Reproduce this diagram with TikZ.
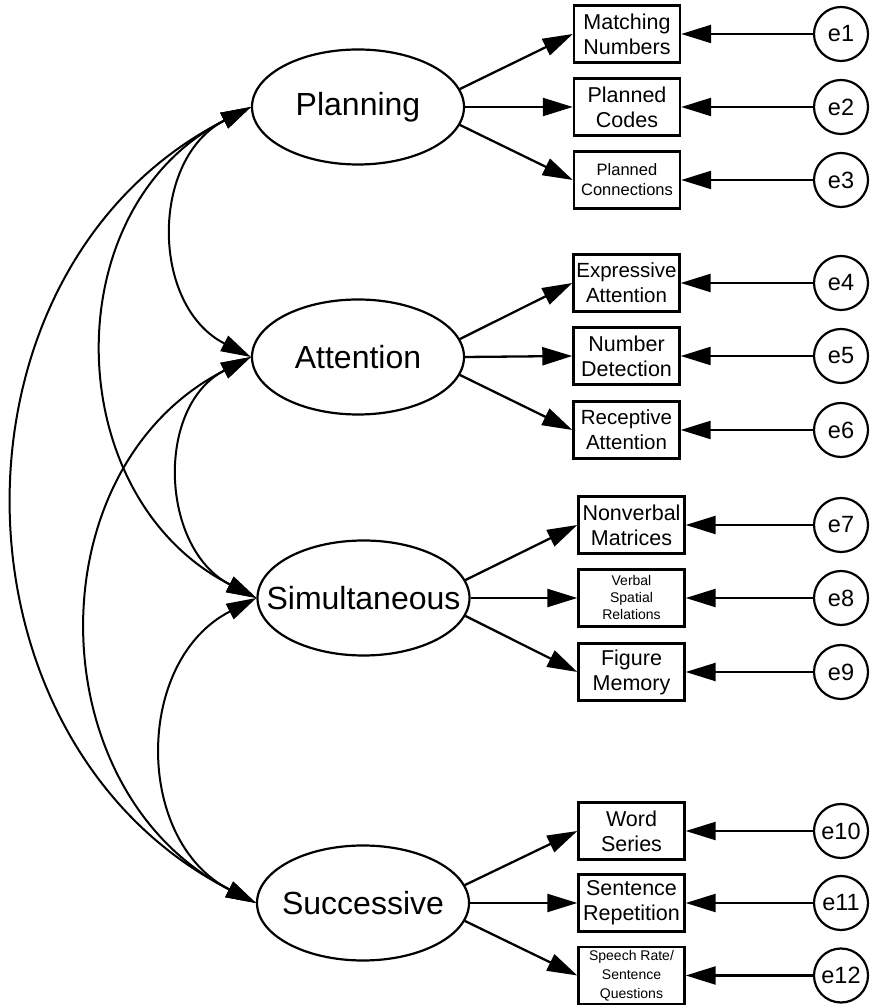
\documentclass[tikz,border=0pt]{standalone}
\usepackage{fontspec}
\setmainfont{Liberation Sans}
\usetikzlibrary{shapes.geometric,arrows.meta}
\tikzset{
  latent/.style={ellipse, draw, line width=2.2pt, minimum width=212pt, minimum height=115pt, inner sep=0pt, font=\fontsize{32}{38}\selectfont},
  obs/.style={rectangle, draw, line width=2.4pt, minimum width=106pt, minimum height=57pt, inner sep=0pt, align=center},
  err/.style={circle, draw, line width=2.2pt, minimum size=54pt, inner sep=0pt, font=\fontsize{23.5}{26}\selectfont},
  bigt/.style={font=\fontsize{21.5}{25}\selectfont},
  midt/.style={font=\fontsize{20.5}{25}\selectfont},
  smallt/.style={font=\fontsize{16.5}{20}\selectfont},
  arr/.style={line width=2.3pt, -{Triangle[length=30pt,width=18pt]}},
  cov/.style={line width=2pt, {Triangle[length=30pt,width=17pt]}-{Triangle[length=30pt,width=17pt]}},
}
\begin{document}
\begin{tikzpicture}[x=1pt,y=1pt]
\useasboundingbox (0,0) rectangle (871,1006);
% latent factors
\node[latent] (P) at (358,899) {\makebox[0pt]{Planning}};
\node[latent] (A) at (358,649) {\makebox[0pt]{Attention}};
\node[latent] (S) at (363.5,408) {\makebox[0pt]{Simultaneous}};
\node[latent] (U) at (363,103) {\makebox[0pt]{Successive}};
% observed
\node[obs,bigt] (m1) at (627,972) {Matching\\Numbers};
\node[obs,bigt] (m2) at (627,899) {Planned\\Codes};
\node[obs,smallt] (m3) at (627,826) {Planned\\Connections};
\node[obs,midt] (m4) at (626.5,723) {Expressive\\Attention};
\node[obs,bigt] (m5) at (626.5,650) {Number\\Detection};
\node[obs,midt] (m6) at (626.5,576) {Receptive\\Attention};
\node[obs,bigt] (m7) at (631.5,481) {Nonverbal\\Matrices};
\node[obs,font=\fontsize{14}{17}\selectfont] (m8) at (631.5,408) {Verbal\\Spatial\\Relations};
\node[obs,bigt] (m9) at (631.5,334) {Figure\\Memory};
\node[obs,bigt] (m10) at (631.5,175) {Word\\Series};
\node[obs,bigt] (m11) at (631.5,103) {Sentence\\Repetition};
\node[obs,font=\fontsize{14}{19}\selectfont] (m12) at (631.5,30.5) {Speech Rate/\\Sentence\\Questions};
% errors
\foreach \i/\y in {1/972,2/899,3/826,4/723,5/650,6/576,7/481,8/408,9/334,10/175,11/103,12/30.5}{
  \node[err] (e\i) at (841,\y) {e\i};
  \draw[arr] (e\i) -- (m\i.east);
}
% loadings
\draw[arr] (P.10) -- (m1.west);
\draw[arr] (P.east) -- (m2.west);
\draw[arr] (P.-10) -- (m3.west);
\draw[arr] (A.10) -- (m4.west);
\draw[arr] (A.east) -- (m5.west);
\draw[arr] (A.-10) -- (m6.west);
\draw[arr] (S.10) -- (m7.west);
\draw[arr] (S.east) -- (m8.west);
\draw[arr] (S.-10) -- (m9.west);
\draw[arr] (U.10) -- (m10.west);
\draw[arr] (U.east) -- (m11.west);
\draw[arr] (U.-10) -- (m12.west);
% covariances
\draw[cov] (P.west) to[out=207,in=153,distance=113pt] (A.west);
\draw[cov] (P.west) to[out=207,in=153,distance=222pt] (S.west);
\draw[cov] (P.west) to[out=207,in=153,distance=355pt] (U.west);
\draw[cov] (A.west) to[out=207,in=153,distance=108pt] (S.west);
\draw[cov] (A.west) to[out=207,in=153,distance=245pt] (U.west);
\draw[cov] (S.west) to[out=207,in=153,distance=137pt] (U.west);
\end{tikzpicture}
\end{document}
